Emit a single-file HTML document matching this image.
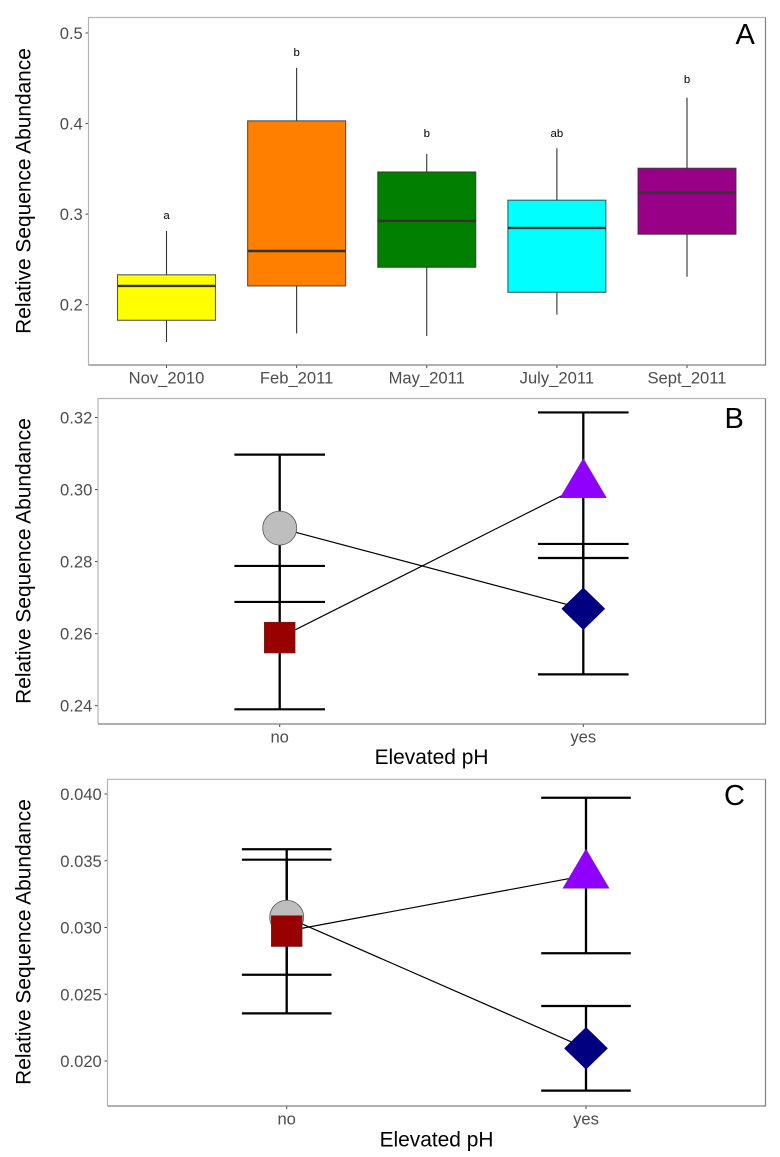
<!DOCTYPE html>
<html lang="en">
<head>
<meta charset="utf-8">
<title>Relative Sequence Abundance panels</title>
<style>
html,body{margin:0;padding:0;background:#fff;}
svg{display:block;font-family:"Liberation Sans",Arial,sans-serif;}
.tick{font-size:16.6px;fill:#4d4d4d;}
.title{font-size:20.9px;fill:#000;}
.panel-letter{font-size:29px;fill:#000;}
</style>
</head>
<body>
<svg id="chart" xmlns="http://www.w3.org/2000/svg" width="780" height="1157" viewBox="0 0 780 1157">
  <rect x="0" y="0" width="780" height="1157" fill="#fff"/>
  <g id="panel-a"></g>
  <g id="panel-b"></g>
  <g id="panel-c"></g>
  <text class="title" transform="translate(30.5,191) rotate(-90)" text-anchor="middle">Relative Sequence Abundance</text>
  <text class="title" transform="translate(30.5,561) rotate(-90)" text-anchor="middle">Relative Sequence Abundance</text>
  <text class="title" transform="translate(30.5,942) rotate(-90)" text-anchor="middle">Relative Sequence Abundance</text>
  <text class="title" x="431.5" y="764" text-anchor="middle">Elevated pH</text>
  <text class="title" x="436.5" y="1146.5" text-anchor="middle">Elevated pH</text>
  <text class="panel-letter" x="735.5" y="44">A</text>
  <text class="panel-letter" x="724.5" y="428">B</text>
  <text class="panel-letter" x="724" y="805">C</text>
</svg>
<script>
// Panel A data
var monthCategories = ['Nov_2010', 'Feb_2011', 'May_2011', 'July_2011', 'Sept_2011'];
var whiskerLow = [0.1588, 0.1684, 0.1654, 0.189, 0.2309];
var boxQ1 = [0.1828, 0.2207, 0.2413, 0.2137, 0.2778];
var boxMedian = [0.2207, 0.2593, 0.2925, 0.2848, 0.3238];
var boxQ3 = [0.233, 0.403, 0.3466, 0.3154, 0.3507];
var whiskerHigh = [0.2814, 0.4615, 0.3665, 0.3728, 0.4287];
var sigLetters = ['a', 'b', 'b', 'ab', 'b'];
var sigLetterValues = [0.2988, 0.4792, 0.3894, 0.3894, 0.4494];
var boxColors = ['#ffff00', '#ff7f00', '#007f00', '#00ffff', '#990088'];
var panelATicks = ['0.2', '0.3', '0.4', '0.5'];

// Panels B and C data (order: no, yes)
var phCategories = ['no', 'yes'];
var panelBTicks = ['0.24', '0.26', '0.28', '0.30', '0.32'];
var panelCTicks = ['0.020', '0.025', '0.030', '0.035', '0.040'];

var bGrayMean = [0.2893]; var bGrayLow = [0.2688]; var bGrayHigh = [0.3097];
var bRedMean = [0.2589]; var bRedLow = [0.2390]; var bRedHigh = [0.2788];
var bPurpleMean = [0.3013]; var bPurpleLow = [0.2810]; var bPurpleHigh = [0.3214];
var bNavyMean = [0.2669]; var bNavyLow = [0.2487]; var bNavyHigh = [0.2849];

var cGrayMean = [0.03077]; var cGrayLow = [0.02646]; var cGrayHigh = [0.03508];
var cRedMean = [0.02973]; var cRedLow = [0.02357]; var cRedHigh = [0.03586];
var cPurpleMean = [0.03390]; var cPurpleLow = [0.02807]; var cPurpleHigh = [0.03972];
var cNavyMean = [0.02095]; var cNavyLow = [0.01778]; var cNavyHigh = [0.02412];

var NS = 'http://www.w3.org/2000/svg';
function el(parent, tag, attrs, text) {
  var e = document.createElementNS(NS, tag);
  for (var k in attrs) e.setAttribute(k, attrs[k]);
  if (text !== undefined) e.textContent = text;
  parent.appendChild(e);
  return e;
}
function linearScale(d0, r0, d1, r1) {
  return function (v) { return r0 + (v - d0) * (r1 - r0) / (d1 - d0); };
}
function frame(parent, box, yScale, yTicks, xPositions, xLabels, labelBaseline) {
  var n;
  n = el(parent, 'rect', {x: box.l, y: box.t, width: box.r - box.l, height: box.b - box.t, fill: '#fff', stroke: 'none'});
  
  
  yTicks.forEach(function (t) {
    var y = yScale(parseFloat(t));
    var m = el(parent, 'line', {x1: box.l - 3, x2: box.l, y1: y, y2: y, stroke: '#444', 'stroke-width': 1});
    
    
    var lab = el(parent, 'text', {x: box.l - 5.7, y: y + 6, 'text-anchor': 'end', 'class': 'tick'}, t);
    
    
  });
  xLabels.forEach(function (t, i) {
    var x = xPositions(i);
    var m = el(parent, 'line', {x1: x, x2: x, y1: box.b, y2: box.b + 3, stroke: '#444', 'stroke-width': 1});
    
    
    var lab = el(parent, 'text', {x: x, y: labelBaseline, 'text-anchor': 'middle', 'class': 'tick'}, t);
    
    
  });
}
function border(parent, box) {
  var a = el(parent, 'path', {d: 'M' + box.l + ' ' + box.b + 'V' + box.t + 'H' + box.r, fill: 'none', stroke: '#b4b4b4', 'stroke-width': 1.2});
  
  
  var b = el(parent, 'path', {d: 'M' + box.r + ' ' + box.t + 'V' + box.b + 'H' + box.l, fill: 'none', stroke: '#808080', 'stroke-width': 1.2});
  
  
}

// ----- Panel A -----
(function () {
  var g = document.getElementById('panel-a');
  var box = {l: 88.5, r: 765.5, t: 17.5, b: 365};
  var y = linearScale(0.2, 304.7, 0.5, 33);
  var x = linearScale(0, 166.5, 4, 687);
  var halfWidth = 49;
  frame(g, box, y, panelATicks, x, monthCategories, 383.5);
  monthCategories.forEach(function (name, i) {
    var cx = x(i);
    var w = el(g, 'line', {x1: cx, x2: cx, y1: y(whiskerHigh[i]), y2: y(whiskerLow[i]), stroke: '#333', 'stroke-width': 1.1});
    
    
    var r = el(g, 'rect', {x: cx - halfWidth, y: y(boxQ3[i]), width: halfWidth * 2, height: y(boxQ1[i]) - y(boxQ3[i]), fill: boxColors[i], stroke: '#333', 'stroke-opacity': 0.8, 'stroke-width': 1.1});
    
    
    var m = el(g, 'line', {x1: cx - halfWidth, x2: cx + halfWidth, y1: y(boxMedian[i]), y2: y(boxMedian[i]), stroke: '#333', 'stroke-width': 2.4});
    
    
    var t = el(g, 'text', {x: cx, y: y(sigLetterValues[i]) + 4, 'text-anchor': 'middle', 'font-size': 11.4, fill: '#000'}, sigLetters[i]);
    
    
  });
  border(g, box);
})();

// ----- Panels B and C -----
function errorBar(g, x, yScale, low, high, capHalf) {
  var v = el(g, 'line', {x1: x, x2: x, y1: yScale(high), y2: yScale(low), stroke: '#000', 'stroke-width': 2.3});
  
  
  [high, low].forEach(function (val) {
    var c = el(g, 'line', {x1: x - capHalf, x2: x + capHalf, y1: yScale(val), y2: yScale(val), stroke: '#000', 'stroke-width': 2.2});
    
    
  });
}
function connector(g, x0, y0, x1, y1) {
  var l = el(g, 'line', {x1: x0, y1: y0, x2: x1, y2: y1, stroke: '#000', 'stroke-width': 1.2});
  
  
}
function circle(g, x, y) {
  var n = el(g, 'circle', {cx: x, cy: y, r: 17, fill: '#bebebe', stroke: '#555', 'stroke-width': 0.8});
  
  
}
function square(g, x, y) {
  var n = el(g, 'rect', {x: x - 15.4, y: y - 15.4, width: 30.8, height: 30.8, fill: '#990000', stroke: '#6a2a2a', 'stroke-width': 0.6});
  
  
}
function triangle(g, x, y) {
  var pts = [[x, y - 26.2], [x + 23, y + 12.8], [x - 23, y + 12.8]].map(function (p) { return p.join(','); }).join(' ');
  var n = el(g, 'polygon', {points: pts, fill: '#9000ff', stroke: '#7a20c0', 'stroke-width': 0.6});
  
  
}
function diamond(g, x, y) {
  var pts = [[x, y - 21], [x + 21.6, y], [x, y + 21], [x - 21.6, y]].map(function (p) { return p.join(','); }).join(' ');
  var n = el(g, 'polygon', {points: pts, fill: '#000080', stroke: '#000080', 'stroke-width': 0.5});
  
  
}

(function () {
  var g = document.getElementById('panel-b');
  var box = {l: 98, r: 765.5, t: 398.5, b: 724};
  var y = linearScale(0.24, 705.7, 0.32, 417.5);
  var x = linearScale(0, 279.7, 1, 583.3);
  frame(g, box, y, panelBTicks, x, phCategories, 742.5);
  errorBar(g, x(0), y, bGrayLow[0], bGrayHigh[0], 45.3);
  errorBar(g, x(0), y, bRedLow[0], bRedHigh[0], 45.3);
  errorBar(g, x(1), y, bPurpleLow[0], bPurpleHigh[0], 45.3);
  errorBar(g, x(1), y, bNavyLow[0], bNavyHigh[0], 45.3);
  connector(g, x(0), y(bGrayMean[0]), x(1), y(bNavyMean[0]));
  connector(g, x(0), y(bRedMean[0]), x(1), y(bPurpleMean[0]));
  circle(g, x(0), y(bGrayMean[0]));
  square(g, x(0), y(bRedMean[0]));
  triangle(g, x(1), y(bPurpleMean[0]));
  diamond(g, x(1), y(bNavyMean[0]));
  border(g, box);
})();

(function () {
  var g = document.getElementById('panel-c');
  var box = {l: 107.5, r: 765.5, t: 779.3, b: 1106};
  var y = linearScale(0.02, 1061, 0.04, 794);
  var x = linearScale(0, 286.7, 1, 586);
  frame(g, box, y, panelCTicks, x, phCategories, 1124.5);
  errorBar(g, x(0), y, cGrayLow[0], cGrayHigh[0], 44.8);
  errorBar(g, x(0), y, cRedLow[0], cRedHigh[0], 44.8);
  errorBar(g, x(1), y, cPurpleLow[0], cPurpleHigh[0], 44.8);
  errorBar(g, x(1), y, cNavyLow[0], cNavyHigh[0], 44.8);
  connector(g, x(0), y(cGrayMean[0]), x(1), y(cNavyMean[0]));
  connector(g, x(0), y(cRedMean[0]), x(1), y(cPurpleMean[0]));
  circle(g, x(0), y(cGrayMean[0]));
  square(g, x(0), y(cRedMean[0]));
  triangle(g, x(1), y(cPurpleMean[0]));
  diamond(g, x(1), y(cNavyMean[0]));
  border(g, box);
})();
</script>
</body>
</html>
